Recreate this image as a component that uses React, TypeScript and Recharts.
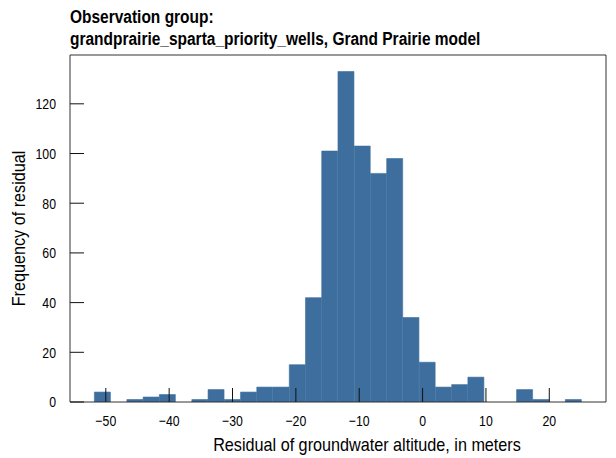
import React from 'react';
import { BarChart, Bar, XAxis, YAxis } from 'recharts';

// Histogram bin edges (residual, meters) and counts
const binEdges = [
  -51.8, -49.24, -46.67, -44.11, -41.55, -38.99, -36.42, -33.86, -31.3, -28.73,
  -26.17, -23.61, -21.04, -18.48, -15.92, -13.36, -10.79, -8.23, -5.67, -3.1,
  -0.54, 2.02, 4.59, 7.15, 9.71, 12.28, 14.84, 17.4, 19.96, 22.53, 25.09,
];
const binCounts = [
  4, 0, 1, 2, 3, 0, 1, 5, 1, 4,
  6, 6, 15, 42, 101, 133, 103, 92, 98, 34,
  16, 6, 7, 10, 0, 0, 5, 1, 0, 1,
];
const xTicks = [-50, -40, -30, -20, -10, 0, 10, 20];
const yTicks = [0, 20, 40, 60, 80, 100, 120];
const xDomain: [number, number] = [-55.65, 28.95];
const yDomain: [number, number] = [0, 139.65];

const titleLines = [
  'Observation group:',
  'grandprairie_sparta_priority_wells, Grand Prairie model',
];
const xLabel = 'Residual of groundwater altitude, in meters';
const yLabel = 'Frequency of residual';

const data = binCounts.map((count, i) => ({
  center: (binEdges[i] + binEdges[i + 1]) / 2,
  count,
}));

const FONT = "'Liberation Sans', Arial, sans-serif";
const AXIS = '#333';
const BAR = '#3d6e9d';
const TICK_SCALE = 0.82;
const LABEL_SCALE = 0.9;
const fmtX = (v: number) => (v < 0 ? `\u2212${Math.abs(v)}` : `${v}`);

const XTick = (props: any) => {
  const { x, y, payload } = props;
  return (
    <text
      transform={`translate(${x},${y}) scale(${TICK_SCALE},1)`}
      textAnchor="middle"
      dy="0.71em"
      fontSize={15}
      fontFamily={FONT}
      fill="#000"
    >
      {fmtX(payload.value)}
    </text>
  );
};

const YTick = (props: any) => {
  const { x, y, payload } = props;
  return (
    <text
      transform={`translate(${x},${y}) scale(${TICK_SCALE},1)`}
      textAnchor="end"
      dy="0.355em"
      fontSize={15}
      fontFamily={FONT}
      fill="#000"
    >
      {payload.value}
    </text>
  );
};

const XLabelContent = (props: any) => {
  const vb = props.viewBox || {};
  const cx = vb.x + vb.width / 2 + 29;
  const by = vb.y + vb.height - 7;
  return (
    <text
      transform={`translate(${cx},${by}) scale(${LABEL_SCALE},1)`}
      textAnchor="middle"
      fontSize={18}
      fontFamily={FONT}
      fill="#000"
    >
      {xLabel}
    </text>
  );
};

const YLabelContent = (props: any) => {
  const vb = props.viewBox || {};
  const cx = vb.x + 19;
  const cy = vb.y + vb.height / 2;
  return (
    <text
      transform={`translate(${cx},${cy}) rotate(-90) scale(${LABEL_SCALE},1)`}
      textAnchor="middle"
      dy="0.355em"
      fontSize={18}
      fontFamily={FONT}
      fill="#000"
    >
      {yLabel}
    </text>
  );
};

export default function App() {
  return (
    <div style={{ position: 'absolute', left: 0, top: 0, width: 616, height: 458, background: '#fff' }}>
      <div
        style={{
          position: 'absolute',
          left: 70,
          top: 6,
          fontFamily: FONT,
          fontWeight: 'bold',
          fontSize: 18,
          lineHeight: '22px',
          color: '#000',
          whiteSpace: 'nowrap',
          transform: 'scaleX(0.86)',
          transformOrigin: 'left top',
          zIndex: 2,
        }}
      >
        {titleLines.map((t) => (
          <div key={t}>{t}</div>
        ))}
      </div>
      <BarChart
        width={616}
        height={458}
        data={data}
        margin={{ top: 0, right: 0, bottom: 0, left: 0 }}
        barCategoryGap={0}
        barGap={0}
      >
        <XAxis
          xAxisId="b"
          dataKey="center"
          type="number"
          domain={xDomain}
          allowDataOverflow
          ticks={xTicks}
          height={56}
          tickSize={-14}
          tickMargin={27}
          stroke={AXIS}
          tickLine={{ stroke: '#111' }}
          axisLine={{ stroke: AXIS }}
          tick={<XTick />}
          label={{ content: <XLabelContent /> }}
        />
        <XAxis
          xAxisId="t"
          orientation="top"
          dataKey="center"
          type="number"
          domain={xDomain}
          allowDataOverflow
          ticks={xTicks}
          height={55}
          tick={false}
          tickSize={-14}
          stroke={AXIS}
          tickLine={{ stroke: '#111' }}
          axisLine={{ stroke: AXIS }}
        />
        <YAxis
          yAxisId="l"
          type="number"
          domain={yDomain}
          allowDataOverflow
          ticks={yTicks}
          width={70}
          tickSize={-14}
          tickMargin={28}
          stroke={AXIS}
          tickLine={{ stroke: '#111' }}
          axisLine={{ stroke: AXIS }}
          tick={<YTick />}
          label={{ content: <YLabelContent /> }}
        />
        <YAxis
          yAxisId="r"
          orientation="right"
          type="number"
          domain={yDomain}
          allowDataOverflow
          ticks={yTicks}
          width={10}
          tick={false}
          tickSize={-14}
          stroke={AXIS}
          tickLine={{ stroke: '#111' }}
          axisLine={{ stroke: AXIS }}
        />
        <Bar
          dataKey="count"
          xAxisId="b"
          yAxisId="l"
          fill={BAR}
          stroke={BAR}
          strokeWidth={0.6}
          isAnimationActive={false}
        />
      </BarChart>
    </div>
  );
}
